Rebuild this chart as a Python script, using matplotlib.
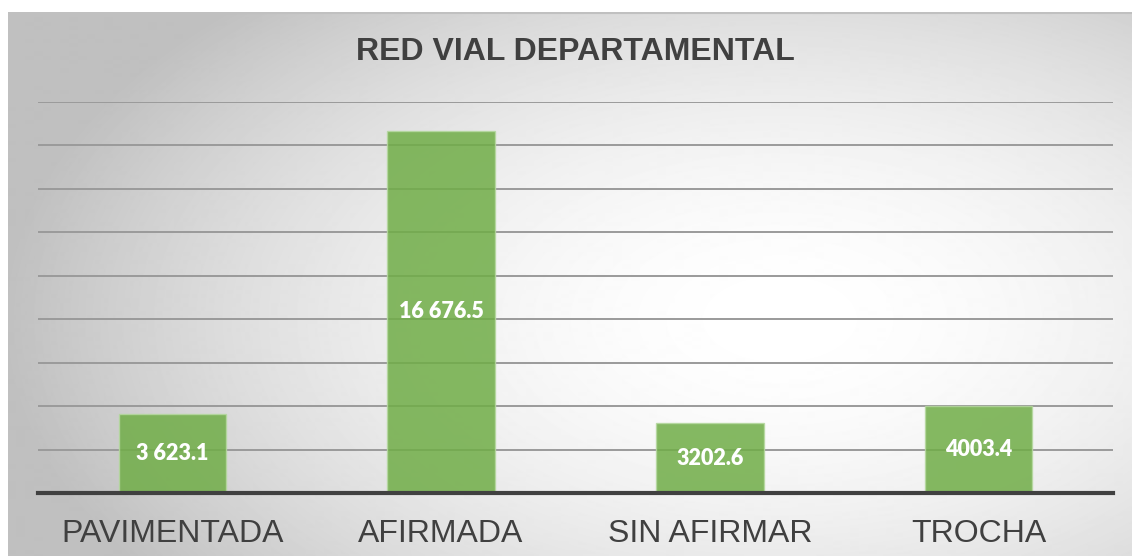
import numpy as np
import matplotlib
matplotlib.use("Agg")
import matplotlib.pyplot as plt

categories = ["PAVIMENTADA", "AFIRMADA", "SIN AFIRMAR", "TROCHA"]
values = [3623.1, 16676.5, 3202.6, 4003.4]
value_labels = ["3 623.1", "16 676.5", "3202.6", "4003.4"]

W, H = 1132, 557
fig = plt.figure(figsize=(W / 100, H / 100), dpi=100)
fig.patch.set_facecolor("white")

# radial grey-to-white backdrop for the chart area
bg = fig.add_axes([8 / W, 0, 1 - 8 / W, (H - 12) / H])
bg.set_axis_off()
yy, xx = np.mgrid[12:H, 8:W]
cx, cy, rx, ry = 780, 320, 780, 440
t = np.clip(np.sqrt(((xx - cx) / rx) ** 2 + ((yy - cy) / ry) ** 2), 0, 1)
shade = 1 - 0.25 * t ** 1.8
bg.imshow(shade, cmap="gray", vmin=0, vmax=1, aspect="auto",
          interpolation="bilinear")
bg.plot([0, shade.shape[1]], [0.5, 0.5], color="#c0c0c0", lw=1.5)
bg.set_xlim(0, shade.shape[1])
bg.set_ylim(shade.shape[0], 0)

ax = fig.add_axes([38 / W, (H - 493) / H, (1113 - 38) / W, (493 - 102) / H])
ax.patch.set_alpha(0)
x = np.arange(len(categories))
bars = ax.bar(x, values, width=0.4, color="#70ad47", alpha=0.85,
              edgecolor="#b5d89f", linewidth=1, zorder=3)
ax.set_xlim(-0.5, len(categories) - 0.5)
ax.set_ylim(0, 18000)
ax.set_yticks(np.arange(2000, 18001, 2000))
ax.yaxis.grid(True, color="#9a9a9a", linewidth=1.4, zorder=0)
ax.tick_params(axis="y", left=False, labelleft=False)
ax.tick_params(axis="x", bottom=False, pad=15)
ax.set_xticks(x)
ax.set_xticklabels(categories, fontsize=23, color="#404040",
                   family="Liberation Sans")
for s in ["top", "right", "left"]:
    ax.spines[s].set_visible(False)
ax.spines["bottom"].set_color("#404040")
ax.spines["bottom"].set_linewidth(3)
ax.spines["bottom"].set_zorder(4)

for b, v, lab in zip(bars, values, value_labels):
    ax.text(b.get_x() + b.get_width() / 2, v / 2, lab, ha="center",
            va="center", color="white", fontsize=15.5, fontweight="heavy",
            family="Lato", zorder=5)

fig.text(575 / W, 1 - 52 / H, "RED VIAL DEPARTAMENTAL", ha="center",
         va="center", fontsize=23, fontweight="bold", color="#404040",
         family="Liberation Sans")

fig.savefig("out.png", dpi=100)
